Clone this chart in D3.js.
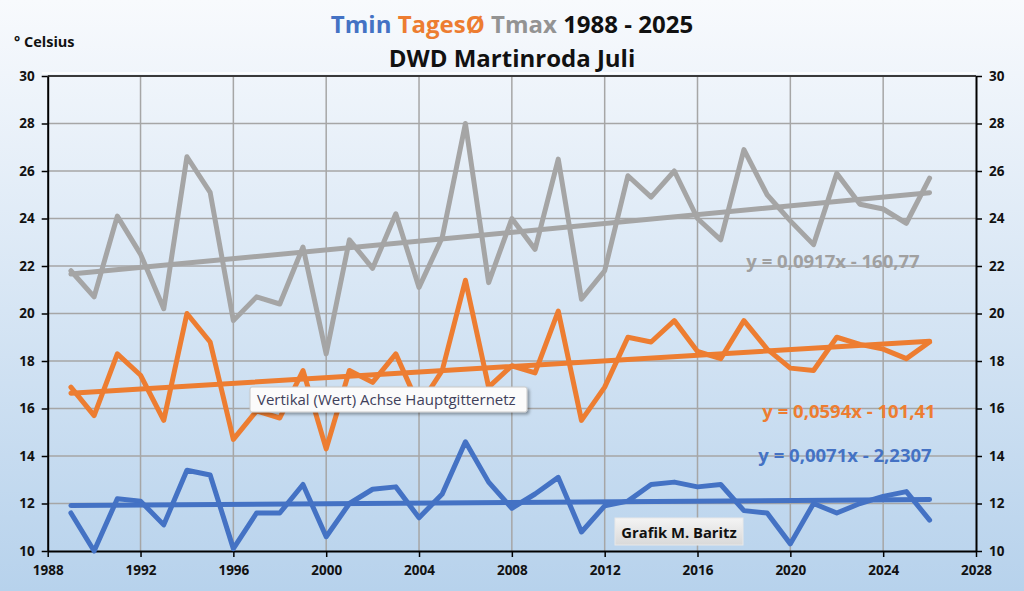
<!DOCTYPE html>
<html>
<head>
<meta charset="utf-8">
<script src="https://cdn.jsdelivr.net/npm/d3@7"></script>
<style>
  html, body { margin: 0; padding: 0; overflow: hidden; }
  body { width: 1024px; height: 591px; }
  text { font-family: "Open Sans", "Noto Sans", sans-serif; }
</style>
</head>
<body>
<div id="chart"></div>
<script>
// years as plotted on the x axis
const years = d3.range(1989, 2027);

const tmin = [11.6, 10.0, 12.2, 12.1, 11.1, 13.4, 13.2, 10.1, 11.6, 11.6,
  12.8, 10.6, 12.0, 12.6, 12.7, 11.4, 12.4, 14.6, 12.9, 11.8,
  12.4, 13.1, 10.8, 11.9, 12.1, 12.8, 12.9, 12.7, 12.8, 11.7,
  11.6, 10.3, 12.0, 11.6, 12.0, 12.3, 12.5, 11.3];

const tavg = [16.9, 15.7, 18.3, 17.4, 15.5, 20.0, 18.8, 14.7, 15.9, 15.6,
  17.6, 14.3, 17.6, 17.1, 18.3, 16.1, 17.6, 21.4, 16.9, 17.8,
  17.5, 20.1, 15.5, 16.9, 19.0, 18.8, 19.7, 18.4, 18.1, 19.7,
  18.5, 17.7, 17.6, 19.0, 18.7, 18.5, 18.1, 18.8];

const tmax = [21.8, 20.7, 24.1, 22.5, 20.2, 26.6, 25.1, 19.7, 20.7, 20.4,
  22.8, 18.3, 23.1, 21.9, 24.2, 21.1, 23.2, 28.0, 21.3, 24.0,
  22.7, 26.5, 20.6, 21.8, 25.8, 24.9, 26.0, 24.0, 23.1, 26.9,
  25.0, 23.9, 22.9, 25.9, 24.6, 24.4, 23.8, 25.7];

// trend equations as printed on the chart
const trendLabels = ["y = 0,0071x - 2,2307", "y = 0,0594x - 101,41", "y = 0,0917x - 160,77"];

const yTicks = d3.range(10, 31, 2);
const xTicks = d3.range(1988, 2029, 4);

const W = 1024, H = 591;
const colors = ["#4472c4", "#ed7d31", "#a5a5a5"];
const series = [tmin, tavg, tmax];

// least squares fit, like the Excel trendline
function linReg(xs, ys) {
  const mx = d3.mean(xs), my = d3.mean(ys);
  let num = 0, den = 0;
  xs.forEach((x, i) => {
    num += (x - mx) * (ys[i] - my);
    den += (x - mx) * (x - mx);
  });
  const slope = num / den;
  return { slope, intercept: my - slope * mx };
}

const svg = d3.select("#chart").append("svg")
  .attr("width", W).attr("height", H);

const defs = svg.append("defs");
const bg = defs.append("linearGradient").attr("id", "bg")
  .attr("x1", 0).attr("y1", 0).attr("x2", 0).attr("y2", 1);
bg.append("stop").attr("offset", "0%").attr("stop-color", "#f8fafd");
bg.append("stop").attr("offset", "100%").attr("stop-color", "#b7d2ec");

const boxGrad = defs.append("linearGradient").attr("id", "box")
  .attr("x1", 0).attr("y1", 0).attr("x2", 0).attr("y2", 1);
boxGrad.append("stop").attr("offset", "0%").attr("stop-color", "#f4f4f4");
boxGrad.append("stop").attr("offset", "100%").attr("stop-color", "#d9d9d9");

const shadow = defs.append("filter").attr("id", "shadow")
  .attr("x", "-10%").attr("y", "-30%").attr("width", "130%").attr("height", "180%");
shadow.append("feDropShadow").attr("dx", 2).attr("dy", 2)
  .attr("stdDeviation", 1.5).attr("flood-color", "#000").attr("flood-opacity", 0.35);

svg.append("rect").attr("width", W).attr("height", H).attr("fill", "url(#bg)");

const xScale = d3.scaleLinear().domain([1988, 2028]).range([47.7, 976]);
const yScale = d3.scaleLinear().domain([10, 30]).range([551, 76]);

// white highlight above plot area
svg.append("line")
  .attr("x1", 42).attr("x2", 977).attr("y1", 73).attr("y2", 73)
  .attr("stroke", "#ffffff").attr("stroke-width", 1.5);

// grid
const grid = svg.append("g");
grid.selectAll(".hg").data(yTicks.slice(1, -1)).enter().append("line")
  .attr("x1", xScale(1988)).attr("x2", xScale(2028))
  .attr("y1", (d) => yScale(d)).attr("y2", (d) => yScale(d))
  .attr("stroke", "#a6a6a6").attr("stroke-width", 1.5);
grid.selectAll(".vg").data(xTicks.slice(1, -1)).enter().append("line")
  .attr("x1", (d) => xScale(d)).attr("x2", (d) => xScale(d))
  .attr("y1", yScale(30)).attr("y2", yScale(10))
  .attr("stroke", "#a6a6a6").attr("stroke-width", 1.5);

// top border
svg.append("line")
  .attr("x1", xScale(1988)).attr("x2", xScale(2028))
  .attr("y1", yScale(30)).attr("y2", yScale(30))
  .attr("stroke", "#3a3a3a").attr("stroke-width", 2);

// axes
const axisFont = (g) => {
  g.select(".domain").attr("stroke", "#000").attr("stroke-width", 2);
  g.selectAll(".tick line").attr("stroke", "#000").attr("stroke-width", 1.5);
  g.selectAll(".tick text")
    .style("font-family", "'Open Sans', sans-serif")
    .style("font-size", "13.5px").style("font-weight", "bold").attr("fill", "#111");
};

svg.append("g").attr("transform", `translate(${xScale(1988)},0)`)
  .call(d3.axisLeft(yScale).tickValues(yTicks).tickSize(6).tickSizeOuter(0).tickPadding(7))
  .call(axisFont);

svg.append("g").attr("transform", `translate(${xScale(2028)},0)`)
  .call(d3.axisRight(yScale).tickValues(yTicks).tickSize(6).tickSizeOuter(0).tickPadding(7))
  .call(axisFont);

svg.append("g").attr("transform", `translate(0,${yScale(10)})`)
  .call(d3.axisBottom(xScale).tickValues(xTicks).tickFormat(d3.format("d"))
    .tickSize(6).tickSizeOuter(0).tickPadding(8))
  .call(axisFont);

// data lines
const line = d3.line()
  .x((d, i) => xScale(years[i]))
  .y((d) => yScale(d));

series.forEach((s, k) => {
  svg.append("path")
    .datum(s)
    .attr("d", line)
    .attr("fill", "none")
    .attr("stroke", colors[k])
    .attr("stroke-width", 5)
    .attr("stroke-linejoin", "round")
    .attr("stroke-linecap", "round");
});

// trend lines
const x0 = years[0], x1 = years[years.length - 1];
series.forEach((s, k) => {
  const fit = linReg(years, s);
  svg.append("line")
    .attr("x1", xScale(x0)).attr("x2", xScale(x1))
    .attr("y1", yScale(fit.slope * x0 + fit.intercept))
    .attr("y2", yScale(fit.slope * x1 + fit.intercept))
    .attr("stroke", colors[k])
    .attr("stroke-width", 5)
    .attr("stroke-linecap", "round");
});

// trend equations
const eqPos = [[845, 462], [849, 418], [833, 268]];
trendLabels.forEach((t, k) => {
  svg.append("text")
    .attr("x", eqPos[k][0]).attr("y", eqPos[k][1])
    .attr("text-anchor", "middle")
    .style("font-size", "18.5px").style("font-weight", "bold")
    .attr("fill", k === 2 ? "#a0a0a0" : colors[k])
    .text(t);
});

// title
const title = svg.append("text")
  .attr("x", 512).attr("y", 33)
  .attr("text-anchor", "middle")
  .style("font-size", "24px").style("font-weight", "bold");
title.append("tspan").attr("fill", "#4472c4").text("Tmin ");
title.append("tspan").attr("fill", "#ed7d31").text("TagesØ ");
title.append("tspan").attr("fill", "#939393").text("Tmax ");
title.append("tspan").attr("fill", "#111").text("1988 - 2025");

svg.append("text")
  .attr("x", 512).attr("y", 67)
  .attr("text-anchor", "middle")
  .style("font-size", "24px").style("font-weight", "bold")
  .attr("fill", "#111")
  .text("DWD Martinroda Juli");

svg.append("text")
  .attr("x", 14).attr("y", 47)
  .style("font-size", "14.5px").style("font-weight", "bold")
  .attr("fill", "#111")
  .text("° Celsius");

// tooltip box
svg.append("rect")
  .attr("x", 250).attr("y", 387).attr("width", 277).attr("height", 25)
  .attr("rx", 2)
  .attr("fill", "#fbfbfb").attr("stroke", "#c8c8c8").attr("stroke-width", 1)
  .attr("filter", "url(#shadow)");
svg.append("text")
  .attr("x", 257).attr("y", 405)
  .style("font-size", "15px")
  .attr("fill", "#40405a")
  .text("Vertikal (Wert) Achse Hauptgitternetz");

// credit box
svg.append("rect")
  .attr("x", 615).attr("y", 518).attr("width", 128).attr("height", 27)
  .attr("fill", "url(#box)").attr("stroke", "#e8e8e8").attr("stroke-width", 1);
svg.append("text")
  .attr("x", 679).attr("y", 537.5)
  .attr("text-anchor", "middle")
  .style("font-size", "14.8px").style("font-weight", "bold")
  .attr("fill", "#111")
  .text("Grafik M. Baritz");
</script>
</body>
</html>
